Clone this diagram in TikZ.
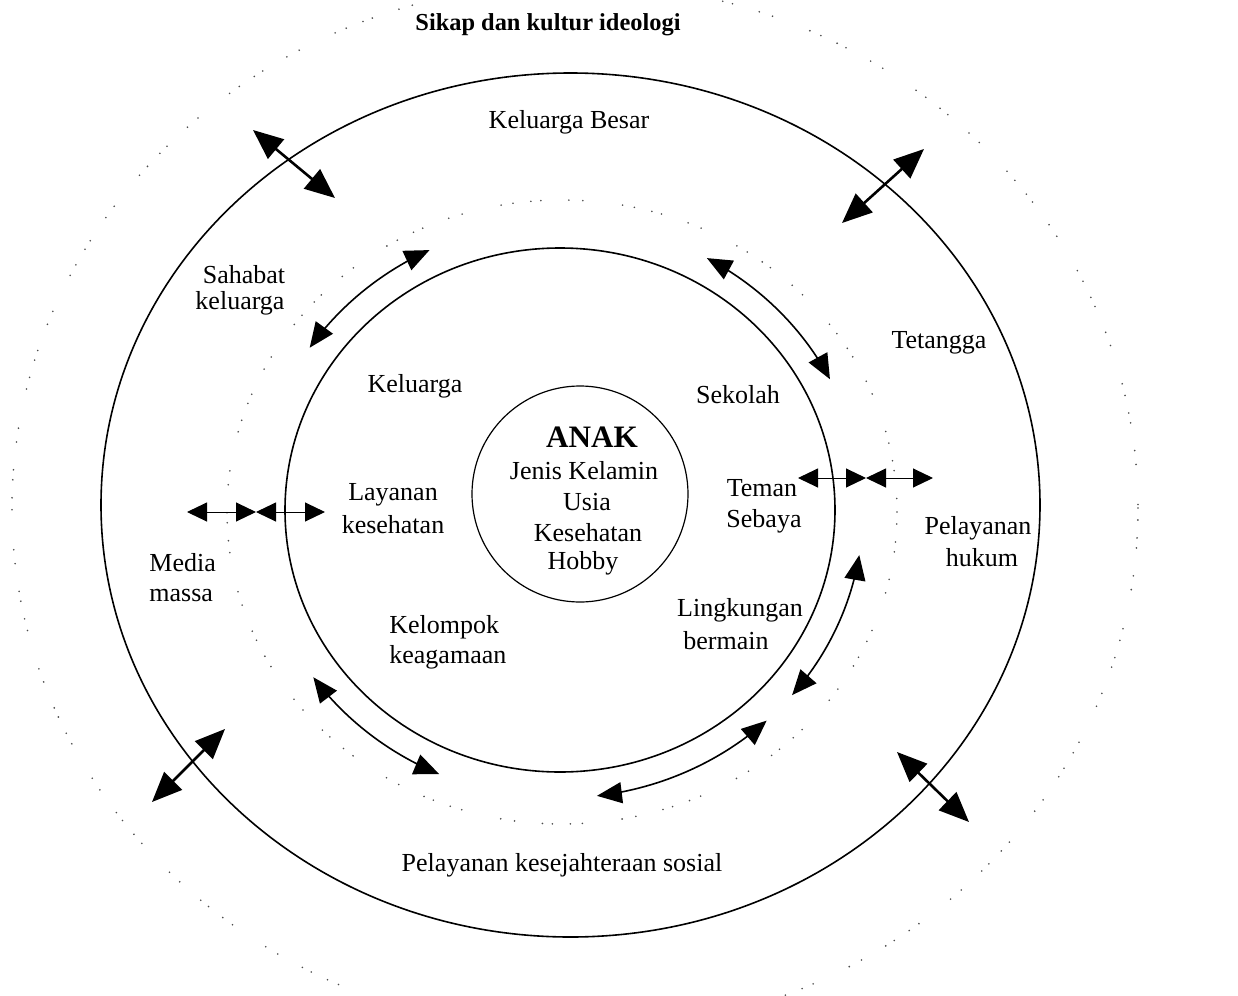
\documentclass[tikz,border=0pt]{standalone}
\usepackage{fontspec}
\setmainfont{Liberation Serif}
\usetikzlibrary{arrows.meta}
\begin{document}
\begin{tikzpicture}[x=0.5pt,y=-0.5pt,
  lbl/.style={inner sep=0pt, font=\fontsize{13pt}{15pt}\selectfont},
  ring/.style={draw=black, line width=0.8pt},
  dotring/.style={draw=black!70, line width=0.9pt, line cap=round,
    dash pattern=on 0pt off 6pt on 0pt off 9pt on 0pt off 5pt on 0pt off 14pt on 0pt off 7pt on 0pt off 20pt},
  thickarrow/.style={line width=1.3pt, {Triangle[length=15pt,width=12.5pt]}-{Triangle[length=15pt,width=12.5pt]}},
  arcarrow/.style={line width=0.8pt, {Triangle[length=12.5pt,width=10.5pt]}-{Triangle[length=12.5pt,width=10.5pt]}},
  smallarrow/.style={line width=0.5pt, {Triangle[length=10pt,width=9.5pt]}-{Triangle[length=10pt,width=9.5pt]}}
]
\useasboundingbox (0,0) rectangle (1238,996);
\clip (0,0) rectangle (1238,996);
\fill[white] (0,0) rectangle (1238,996);

% dotted rings
\path[dotring] (575,508) ellipse [x radius=563, y radius=525];
\path[dotring] (562,512) ellipse [x radius=335, y radius=312];

% solid rings
\draw[ring] (570.5,505) ellipse [x radius=469.5, y radius=432];
\draw[ring] (560,510) ellipse [x radius=275, y radius=262];
\draw[ring, line width=0.6pt] (580,494) circle [radius=108];

% thick arrows across the outer ring
\coordinate (tl1) at (253,130); \coordinate (tl2) at (335,198);
\coordinate (tr1) at (924,149); \coordinate (tr2) at (842,223);
\coordinate (bl1) at (152,802); \coordinate (bl2) at (225,729);
\coordinate (br1) at (897,752); \coordinate (br2) at (969,822);
\draw[thickarrow] (tl1) -- (tl2);
\draw[thickarrow] (tr1) -- (tr2);
\draw[thickarrow] (bl1) -- (bl2);
\draw[thickarrow] (br1) -- (br2);

% horizontal double arrows
\coordinate (la) at (187,512); \coordinate (lm) at (256,512); \coordinate (lb) at (325,512);
\draw[smallarrow] (la) -- (lm);
\draw[smallarrow] (lm) -- (lb);
\coordinate (ra) at (798,478); \coordinate (rm) at (866,478); \coordinate (rb) at (933,478);
\draw[smallarrow] (ra) -- (rm);
\draw[smallarrow] (rm) -- (rb);

% curved double arrows between the middle ring and the dotted ring
\draw[arcarrow] plot[domain=115.5:145.7, samples=40] ({560+303*cos(\x)},{510-288*sin(\x)});
\draw[arcarrow] plot[domain=61:27, samples=40] ({560+303*cos(\x)},{510-288*sin(\x)});
\draw[arcarrow] plot[domain=215.5:246.5, samples=40] ({560+303*cos(\x)},{510-288*sin(\x)});
\draw[arcarrow] plot[domain=-9:-40, samples=40] ({560+303*cos(\x)},{510-288*sin(\x)});
\draw[arcarrow] plot[domain=-47:-83, samples=40] ({560+303*cos(\x)},{510-288*sin(\x)});

% labels
\node[inner sep=0pt, font=\bfseries\fontsize{12.2pt}{14pt}\selectfont] (title) at (548,25) {Sikap dan kultur ideologi};
\node[lbl] (kb) at (569,122) {Keluarga Besar};
\node[lbl] (sah1) at (244,275) {Sahabat};
\node[lbl] (sah2) at (240,303) {keluarga};
\node[lbl] (tet) at (939,343) {Tetangga};
\node[lbl] (kel) at (415,386) {Keluarga};
\node[lbl] (sek) at (738,395) {Sekolah};
\node[inner sep=0pt, font=\bfseries\fontsize{15.6pt}{18pt}\selectfont] (anak) at (592,437) {ANAK};
\node[lbl] (jk) at (584,471) {Jenis Kelamin};
\node[lbl] (usia) at (587,502) {Usia};
\node[lbl] (kes) at (588,533) {Kesehatan};
\node[lbl] (hob) at (583,563) {Hobby};
\node[lbl] (lay1) at (393,495) {Layanan};
\node[lbl] (lay2) at (393,525) {kesehatan};
\node[lbl] (tem1) at (762,488) {Teman};
\node[lbl] (tem2) at (764,521) {Sebaya};
\node[lbl, anchor=west] (med1) at (149,563) {Media};
\node[lbl, anchor=west] (med2) at (149,595) {massa};
\node[lbl] (ph1) at (978,528) {Pelayanan};
\node[lbl] (ph2) at (982,558) {hukum};
\node[lbl] (lk1) at (740,610) {Lingkungan};
\node[lbl] (lk2) at (726,641) {bermain};
\node[lbl, anchor=west] (kk1) at (389,627) {Kelompok};
\node[lbl, anchor=west] (kk2) at (389,657) {keagamaan};
\node[lbl] (pks) at (562,865) {Pelayanan kesejahteraan sosial};
\end{tikzpicture}
\end{document}
